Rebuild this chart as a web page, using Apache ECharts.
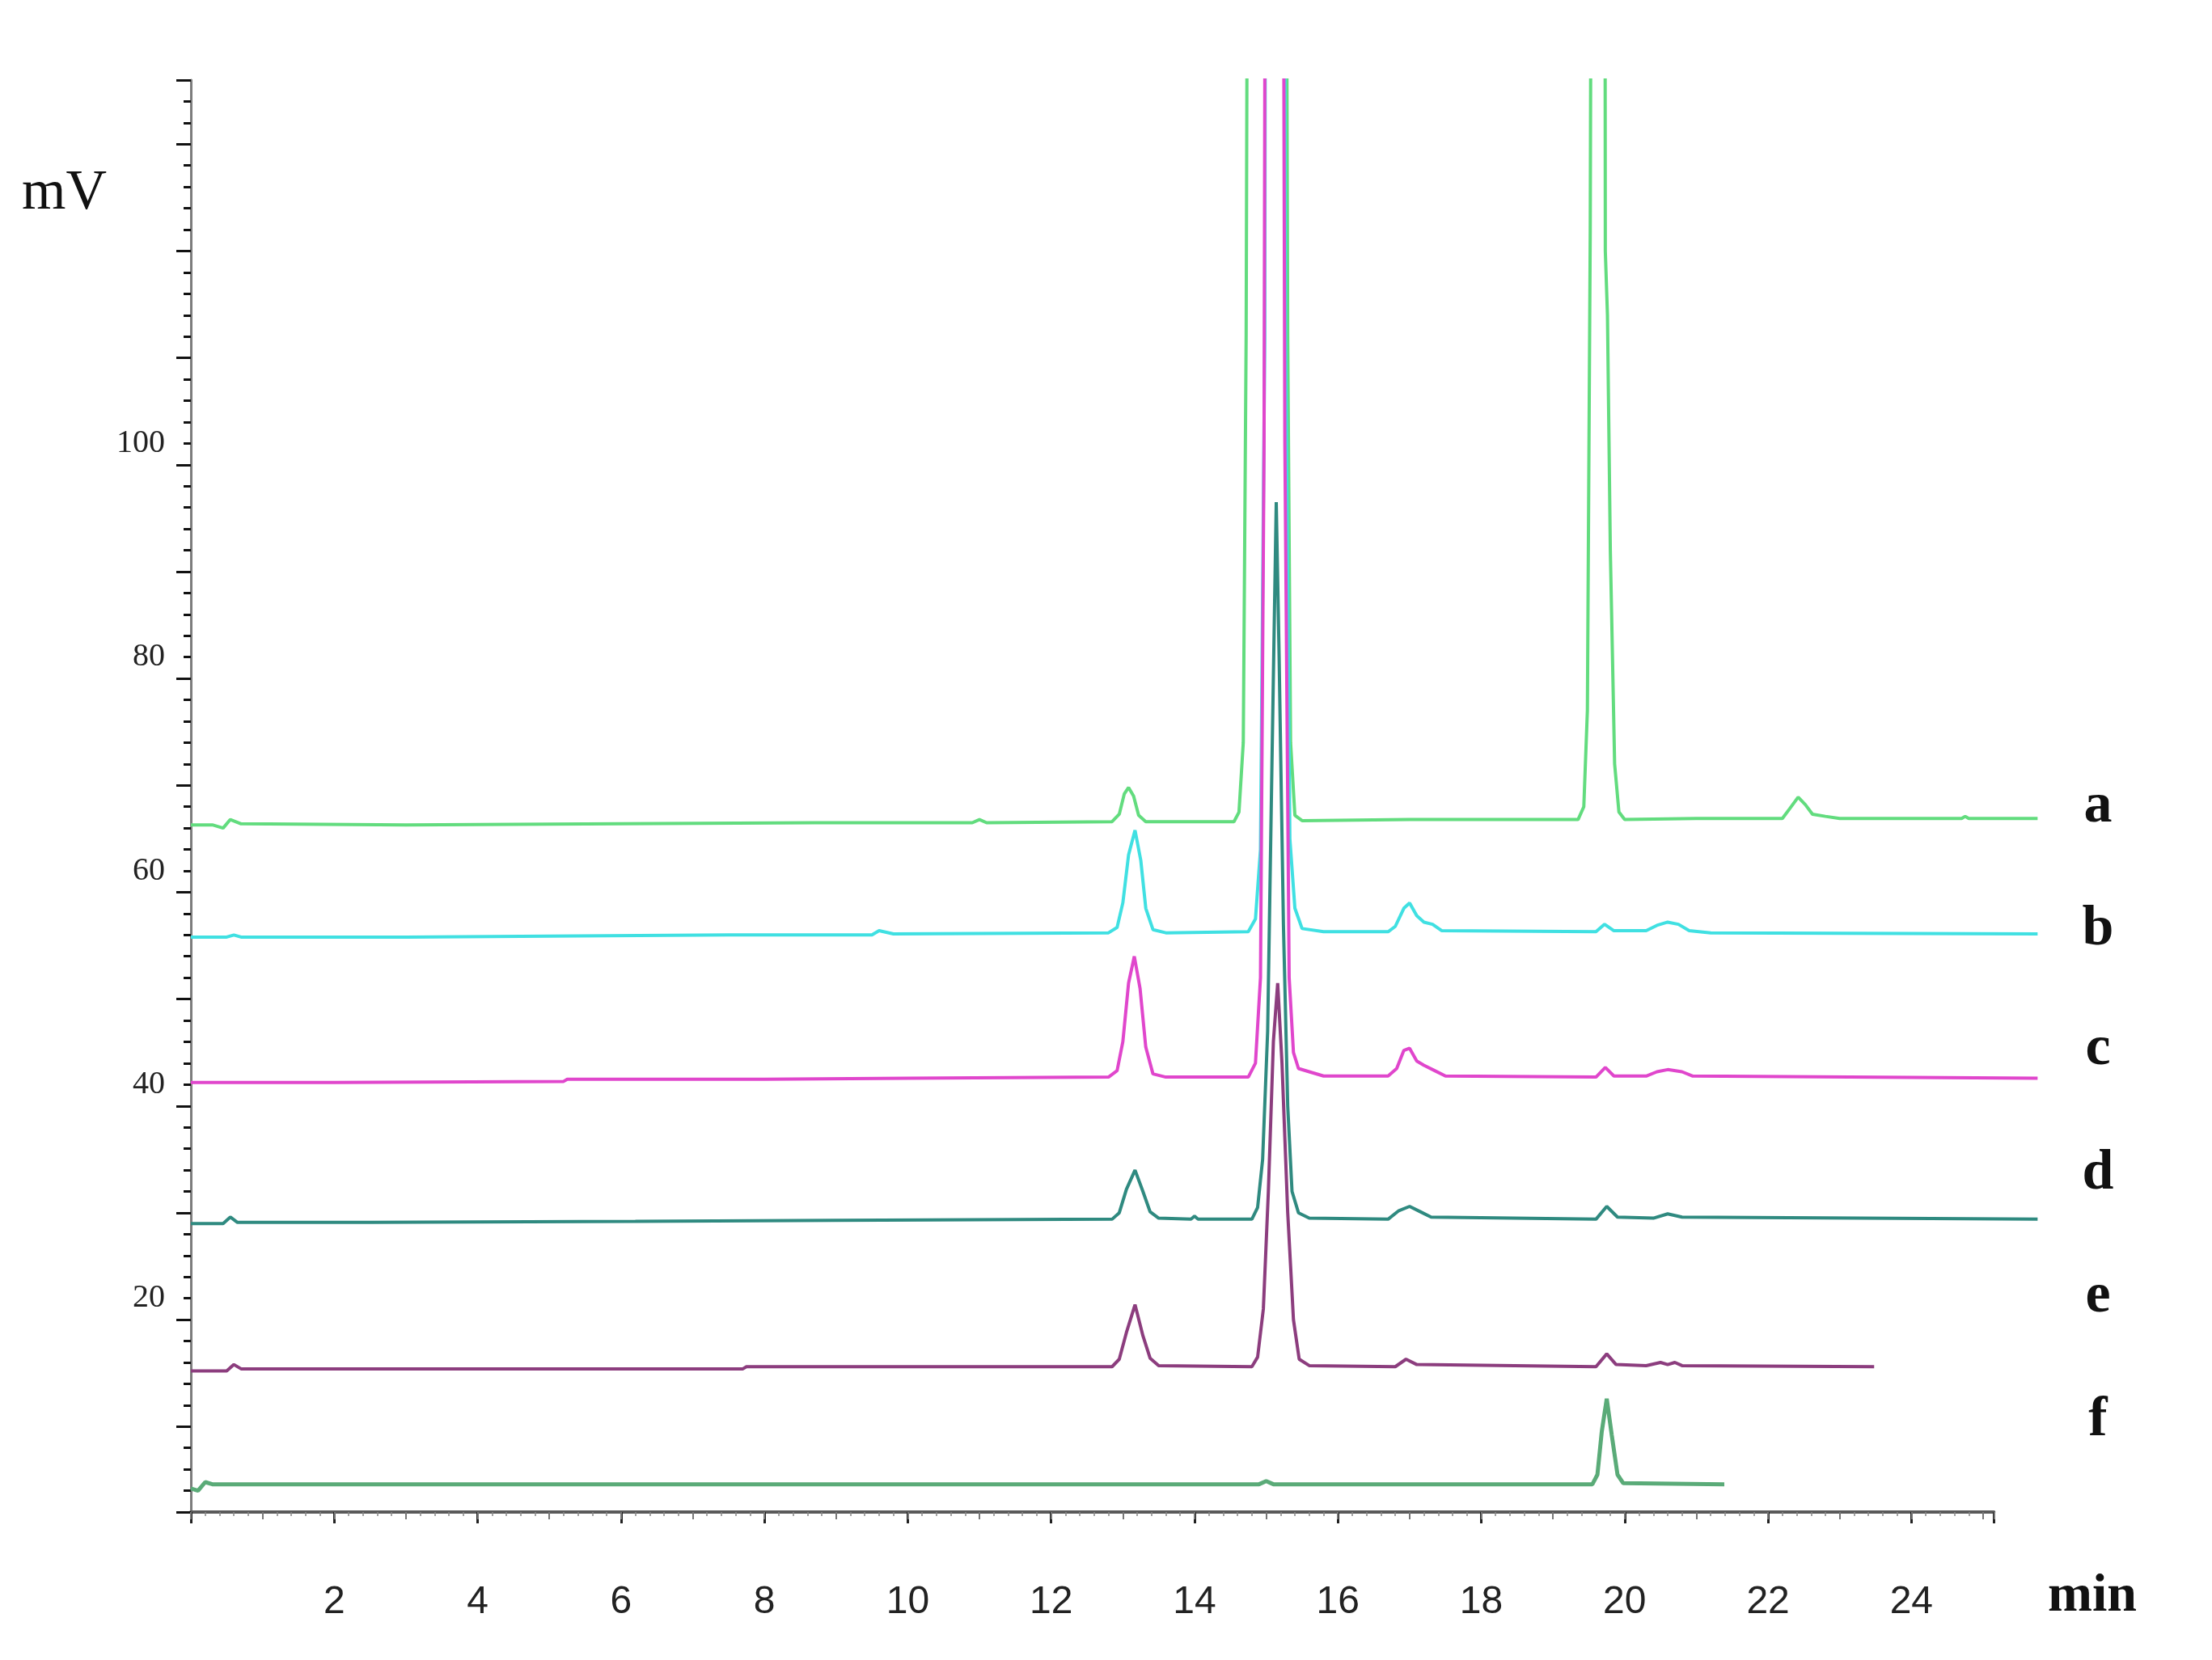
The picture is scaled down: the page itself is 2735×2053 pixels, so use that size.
<!DOCTYPE html>
<html>
<head>
<meta charset="utf-8">
<title>Chromatograms a-f</title>
<script src="https://cdn.jsdelivr.net/npm/echarts@6/dist/echarts.min.js"></script>
<style>
  html, body { margin: 0; padding: 0; background: #fff; }
  #chart { width: 2735px; height: 2053px; }
</style>
</head>
<body>
<div id="chart"></div>
<script>
// retention time (min), signal (mV)
const traceA = [
  [0, 64.3], [0.3, 64.3], [0.45, 64.0], [0.55, 64.8], [0.7, 64.4], [3, 64.3], [6, 64.4], [8.7, 64.5],
  [10.9, 64.5], [11.0, 64.8], [11.1, 64.5], [12.85, 64.6], [12.95, 65.3], [13.02, 67.2], [13.08, 67.8],
  [13.15, 67.0], [13.22, 65.2], [13.32, 64.6], [14.55, 64.6], [14.62, 65.5], [14.68, 72], [14.72, 110],
  [14.76, 200], [15.26, 200], [15.3, 110], [15.34, 72], [15.4, 65.2], [15.5, 64.7], [17, 64.8],
  [19.35, 64.8], [19.43, 66], [19.48, 75], [19.52, 120], [19.55, 200], [19.72, 200], [19.73, 118],
  [19.76, 112], [19.8, 90], [19.86, 70], [19.92, 65.5], [20.0, 64.8], [21, 64.9], [22.2, 64.9],
  [22.3, 65.8], [22.42, 66.9], [22.52, 66.2], [22.62, 65.3], [22.8, 65.1], [23.0, 64.9], [24.7, 64.9],
  [24.75, 65.1], [24.8, 64.9], [25.76, 64.9]
];
const traceB = [
  [0, 53.8], [0.5, 53.8], [0.6, 54.0], [0.7, 53.8], [3, 53.8], [5, 53.9], [7.5, 54.0], [9.5, 54.0],
  [9.6, 54.4], [9.8, 54.1], [12.8, 54.2], [12.92, 54.7], [13.0, 57], [13.08, 61.5], [13.17, 63.8],
  [13.25, 61], [13.32, 56.5], [13.42, 54.5], [13.6, 54.2], [14.75, 54.3], [14.85, 55.5], [14.92, 62],
  [14.98, 110], [15.0, 200], [15.24, 200], [15.27, 110], [15.33, 63], [15.4, 56.5], [15.5, 54.6],
  [15.8, 54.3], [16.7, 54.3], [16.8, 54.8], [16.92, 56.5], [17.0, 57.0], [17.1, 55.8], [17.2, 55.2],
  [17.32, 55.0], [17.45, 54.4], [19.6, 54.3], [19.72, 55.0], [19.85, 54.4], [20.3, 54.4], [20.45, 54.9],
  [20.6, 55.2], [20.75, 55.0], [20.9, 54.4], [21.2, 54.2], [25.76, 54.1]
];
const traceC = [
  [0, 40.2], [2, 40.2], [5.2, 40.3], [5.25, 40.5], [8, 40.5], [10, 40.6], [12.8, 40.7], [12.92, 41.3],
  [13.0, 44], [13.08, 49.5], [13.16, 52.0], [13.24, 49], [13.32, 43.5], [13.42, 41.0], [13.6, 40.7],
  [14.75, 40.7], [14.85, 42], [14.92, 50], [14.97, 100], [15.0, 200], [15.22, 200], [15.26, 100],
  [15.32, 50], [15.38, 43], [15.45, 41.5], [15.6, 41.2], [15.8, 40.8], [16.7, 40.8], [16.82, 41.5],
  [16.92, 43.2], [17.0, 43.4], [17.1, 42.2], [17.2, 41.8], [17.35, 41.3], [17.5, 40.8], [19.6, 40.7],
  [19.73, 41.6], [19.85, 40.8], [20.3, 40.8], [20.45, 41.2], [20.6, 41.4], [20.8, 41.2], [20.95, 40.8],
  [25.76, 40.6]
];
const traceD = [
  [0, 27.0], [0.45, 27.0], [0.55, 27.6], [0.65, 27.1], [2.5, 27.1], [6.2, 27.2], [9, 27.3], [12.85, 27.4],
  [12.95, 28.0], [13.05, 30.2], [13.17, 32.0], [13.28, 30], [13.38, 28.1], [13.5, 27.5], [13.95, 27.4],
  [14.0, 27.7], [14.05, 27.4], [14.8, 27.4], [14.88, 28.5], [14.95, 33], [15.02, 45], [15.08, 70],
  [15.14, 94.5], [15.18, 80], [15.24, 55], [15.3, 38], [15.36, 30], [15.45, 28.0], [15.6, 27.5],
  [16.7, 27.4], [16.85, 28.2], [17.0, 28.6], [17.15, 28.1], [17.3, 27.6], [19.6, 27.4], [19.75, 28.6],
  [19.9, 27.6], [20.4, 27.5], [20.6, 27.9], [20.8, 27.6], [25.76, 27.4]
];
const traceE = [
  [0, 13.2], [0.5, 13.2], [0.6, 13.8], [0.7, 13.4], [7.7, 13.4], [7.75, 13.6], [12.85, 13.6],
  [12.95, 14.3], [13.05, 16.8], [13.17, 19.4], [13.28, 16.5], [13.38, 14.4], [13.5, 13.7], [14.8, 13.6],
  [14.88, 14.5], [14.96, 19], [15.03, 30], [15.1, 44], [15.16, 49.5], [15.22, 42], [15.3, 28],
  [15.38, 18], [15.46, 14.3], [15.6, 13.7], [16.8, 13.6], [16.95, 14.3], [17.1, 13.8], [19.6, 13.6],
  [19.75, 14.8], [19.88, 13.8], [20.3, 13.7], [20.5, 14.0], [20.6, 13.8], [20.7, 14.0], [20.8, 13.7],
  [23.48, 13.6]
];
const traceF = [
  [0, 2.2], [0.1, 2.0], [0.2, 2.8], [0.3, 2.6], [2.1, 2.6], [6.1, 2.6], [14.9, 2.6], [15.0, 2.9],
  [15.1, 2.6], [19.55, 2.6], [19.62, 3.5], [19.68, 7.5], [19.75, 10.6], [19.82, 7.2], [19.9, 3.5],
  [19.98, 2.7], [21.39, 2.6]
];

const traceNames = ['a', 'b', 'c', 'd', 'e', 'f'];
const traceData = [traceA, traceB, traceC, traceD, traceE, traceF];
const xLabelValues = [2, 4, 6, 8, 10, 12, 14, 16, 18, 20, 22, 24];
const yLabelValues = [20, 40, 60, 80, 100];

const colors = ['#62dc7e', '#40e0e2', '#e046cc', '#2f8a80', '#8c3d7e', '#5aab78'];
const widths = [4, 4, 4, 4, 4, 5];

// label positions (px) for the trace letters on the right
const letterY = [998, 1150, 1298, 1452, 1604, 1757];

const chart = echarts.init(document.getElementById('chart'));

const GRID_LEFT = 236, GRID_TOP = 99, GRID_BOTTOM = 183;
const PX_PER_MIN = 88.64;
const AXIS_MAX = 25.15, DATA_MAX = 26;

chart.setOption({
  animation: false,
  backgroundColor: '#ffffff',
  grid: [
    { left: GRID_LEFT, top: GRID_TOP, bottom: GRID_BOTTOM, width: AXIS_MAX * PX_PER_MIN },
    { left: GRID_LEFT, top: GRID_TOP, bottom: GRID_BOTTOM, width: DATA_MAX * PX_PER_MIN }
  ],
  xAxis: [
    { // labelled axis, long ticks every 2 min
      type: 'value', gridIndex: 0, position: 'bottom', min: 0, max: AXIS_MAX, interval: 2,
      axisLine: { onZero: false, lineStyle: { color: '#5a5a5a', width: 4 } },
      axisTick: { length: 14, lineStyle: { color: '#222', width: 3 } },
      axisLabel: {
        margin: 88, fontSize: 48, color: '#222',
        fontFamily: "'Liberation Sans Narrow', 'Liberation Sans', sans-serif",
        formatter: v => xLabelValues.includes(v) ? String(v) : ''
      },
      splitLine: { show: false }
    },
    { // short ticks every minute + fine minor ticks
      type: 'value', gridIndex: 0, position: 'bottom', min: 0, max: AXIS_MAX, interval: 1,
      axisLine: { show: false, onZero: false },
      axisTick: { length: 9, lineStyle: { color: '#777', width: 2 } },
      minorTick: { show: true, splitNumber: 5, length: 5, lineStyle: { color: '#888', width: 1.5 } },
      axisLabel: { show: false },
      splitLine: { show: false }
    },
    { type: 'value', gridIndex: 1, min: 0, max: DATA_MAX, show: false }
  ],
  yAxis: [
    { // short ticks every 2 mV, labels every 20
      type: 'value', gridIndex: 0, position: 'left', min: 0, max: 134, interval: 2,
      axisLine: { show: true, onZero: false, lineStyle: { color: '#7d7d7d', width: 3 } },
      axisTick: { length: 9, lineStyle: { color: '#111', width: 3 } },
      axisLabel: {
        margin: 32, fontSize: 40, color: '#222', fontFamily: "'Liberation Serif', serif",
        formatter: v => yLabelValues.includes(v) ? String(v) : ''
      },
      splitLine: { show: false }
    },
    { // long ticks, offset by 8 mV as in the original scale
      type: 'value', gridIndex: 0, position: 'left', min: -8, max: 126,
      splitNumber: 13, minInterval: 10, maxInterval: 10,
      axisLine: { show: false, onZero: false },
      axisTick: { length: 18, lineStyle: { color: '#111', width: 3 } },
      axisLabel: { show: false },
      splitLine: { show: false }
    },
    { type: 'value', gridIndex: 1, min: 0, max: 134, show: false }
  ],
  series: traceData.map((d, i) => ({
    name: traceNames[i],
    type: 'line',
    xAxisIndex: 2,
    yAxisIndex: 2,
    data: d,
    showSymbol: false,
    smooth: false,
    clip: true,
    lineStyle: { color: colors[i], width: widths[i] },
    z: 2 + i
  })),
  graphic: [
    {
      type: 'text', left: 27, top: 205,
      style: { text: 'mV', font: "70px 'Liberation Serif', serif", fill: '#111' }
    },
    {
      type: 'text', x: 2587, y: 1975,
      style: { text: 'min', font: "bold 66px 'Liberation Serif', serif", fill: '#111',
               align: 'center', verticalAlign: 'middle' }
    },
    ...traceNames.map((n, i) => ({
      type: 'text', x: 2594, y: letterY[i],
      style: { text: n, font: "bold 70px 'Liberation Serif', serif", fill: '#111',
               align: 'center', verticalAlign: 'middle' }
    }))
  ]
});
</script>
</body>
</html>
